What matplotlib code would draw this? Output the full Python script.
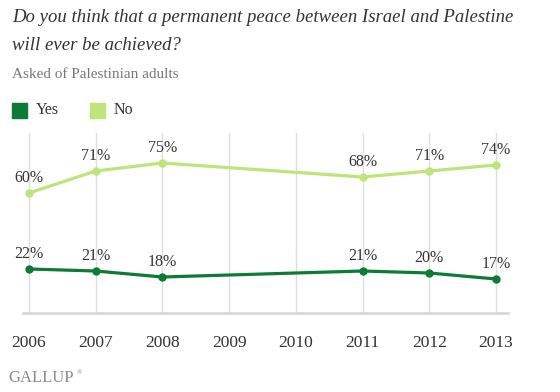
#!/usr/bin/env python3
"""
Gallup trend: will a permanent peace between Israel and Palestine ever be achieved?
"""

import matplotlib.pyplot as plt

# Data (2009 and 2010 not asked)
years = [2006, 2007, 2008, 2011, 2012, 2013]
yes_pct = [22, 21, 18, 21, 20, 17]
no_pct = [60, 71, 75, 68, 71, 74]
tick_years = [2006, 2007, 2008, 2009, 2010, 2011, 2012, 2013]

YES_COLOR = '#0d7a36'
NO_COLOR = '#bee47a'
TEXT_COLOR = '#333333'
GREY = '#777777'

plt.rcParams['font.family'] = ['Liberation Serif', 'DejaVu Serif']

fig = plt.figure(figsize=(5.6, 3.92), dpi=100)

# axes placed to match the reference pixel layout
ax = fig.add_axes([23 / 560, 1 - 313 / 392, 485 / 560, 180 / 392])
ax.set_xlim(2005.91, 2013.18)
ax.set_ylim(0, 90)

for yr in tick_years:
    ax.axvline(yr, color='#dedede', linewidth=1, zorder=0)

ax.plot(years, no_pct, '-o', color=NO_COLOR, linewidth=2.3, markersize=5, zorder=3)
ax.plot(years, yes_pct, '-o', color=YES_COLOR, linewidth=2.3, markersize=5, zorder=3)

for x, y in zip(years, no_pct):
    ax.annotate(f'{y}%', xy=(x, y), xytext=(0, 11), textcoords='offset points',
                ha='center', va='center', fontsize=11.5, color=TEXT_COLOR)
for x, y in zip(years, yes_pct):
    ax.annotate(f'{y}%', xy=(x, y), xytext=(0, 11), textcoords='offset points',
                ha='center', va='center', fontsize=11.5, color=TEXT_COLOR)

for side in ['top', 'right', 'left']:
    ax.spines[side].set_visible(False)
ax.spines['bottom'].set_color('#d4d4d4')
ax.spines['bottom'].set_linewidth(1.8)
ax.set_yticks([])
ax.set_xticks(tick_years)
ax.set_xticklabels([str(y) for y in tick_years], fontsize=12.5, color=TEXT_COLOR)
ax.tick_params(axis='x', length=0, pad=16)

# title, subtitle, legend, logo
fig.text(12 / 560, 1 - 18 / 392, 'Do you think that a permanent peace between Israel and Palestine',
         fontsize=13.5, style='italic', color=TEXT_COLOR, va='center', ha='left')
fig.text(12 / 560, 1 - 45 / 392, 'will ever be achieved?',
         fontsize=13.5, style='italic', color=TEXT_COLOR, va='center', ha='left')
fig.text(12 / 560, 1 - 75 / 392, 'Asked of Palestinian adults',
         fontsize=11, color=GREY, va='center', ha='left')

for x0, color, label in [(12, YES_COLOR, 'Yes'), (90, NO_COLOR, 'No')]:
    fig.patches.append(plt.Rectangle((x0 / 560, 1 - 118 / 392), 15 / 560, 15 / 392,
                                     transform=fig.transFigure, color=color, figure=fig))
    fig.text((x0 + 24) / 560, 1 - 110 / 392, label, fontsize=11.5, color=TEXT_COLOR,
             va='center', ha='left')

fig.text(8 / 560, 1 - 378 / 392, 'GALLUP', fontsize=12, color='#8a8a8a',
         va='center', ha='left')
fig.text(77 / 560, 1 - 373 / 392, '\u00ae', fontsize=5, color='#8a8a8a',
         va='center', ha='left')

fig.savefig('out.png', dpi=100)
